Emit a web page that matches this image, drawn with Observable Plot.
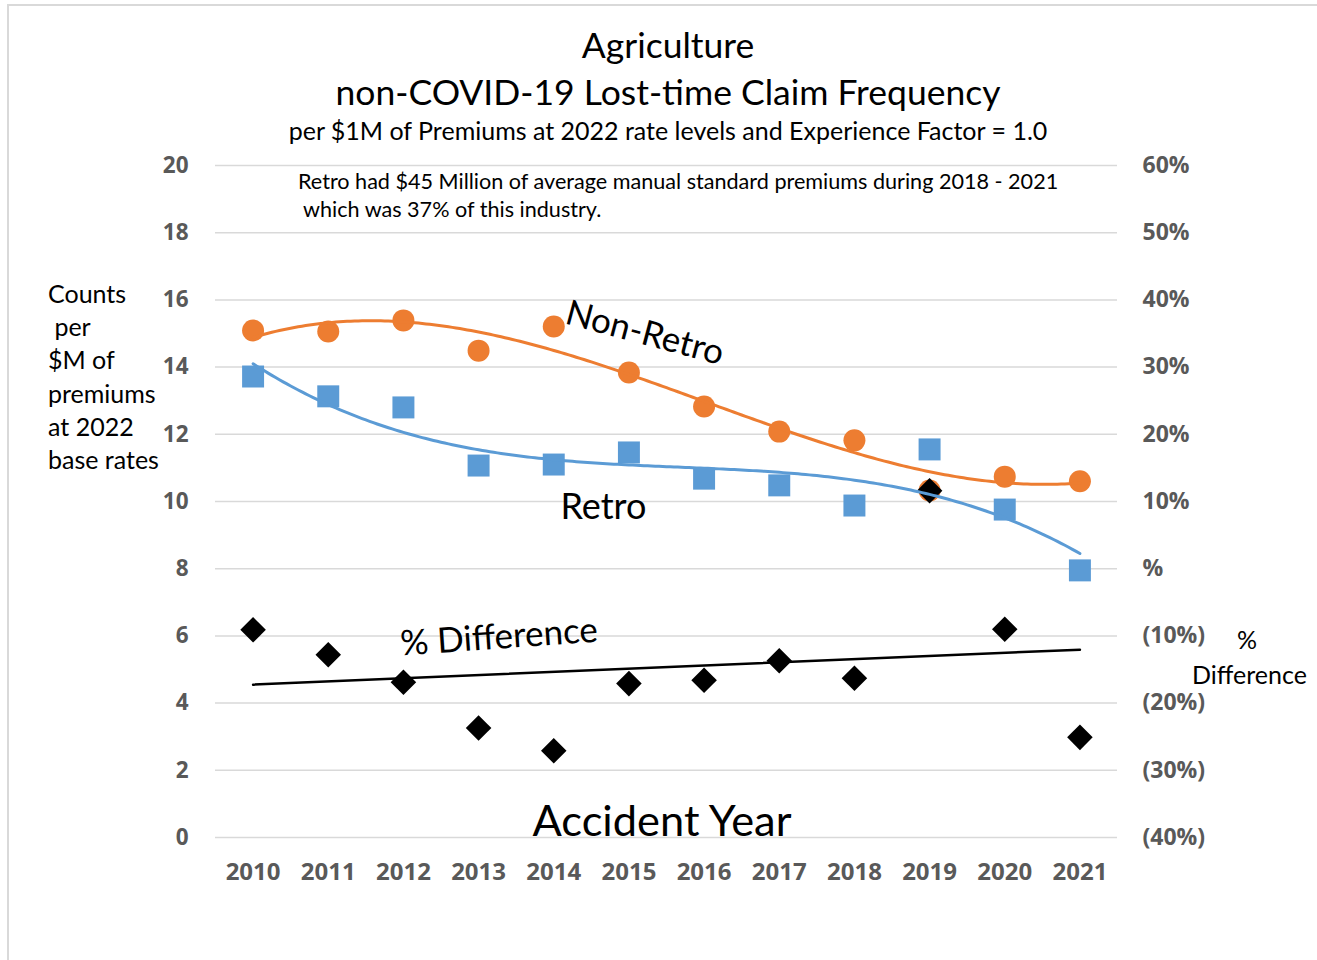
<!DOCTYPE html>
<html><head><meta charset="utf-8">
<script src="https://cdn.jsdelivr.net/npm/d3@7"></script>
<script src="https://cdn.jsdelivr.net/npm/@observablehq/plot@0.6"></script>
<style>
html,body{margin:0;padding:0;background:#fff;overflow:hidden;}
#wrap{position:relative;width:1317px;height:960px;font-family:Lato,"Open Sans",sans-serif;color:#000;overflow:hidden;}
.frame{position:absolute;left:7px;top:4px;width:1400px;height:1000px;border:2px solid #d9d9d9;box-sizing:border-box;}
#chart{position:absolute;left:0;top:0;}
#chart g[aria-label*="tick label"], #chart g[aria-label*="tick label"] text{font-weight:700;font-family:"Open Sans",sans-serif;}
.t{position:absolute;white-space:nowrap;line-height:1;}
.c{transform:translateX(-50%);}
</style></head><body>
<div id="wrap">
<div class="frame"></div>
<div id="chart"></div>
<div class="t c" style="left:668px;top:26.5px;font-size:35.5px;">Agriculture</div>
<div class="t c" style="left:668px;top:73.5px;font-size:35.5px;">non-COVID-19 Lost-time Claim Frequency</div>
<div class="t c" style="left:668px;top:118px;font-size:25px;">per $1M of Premiums at 2022 rate levels and Experience Factor = 1.0</div>
<div class="t" style="left:298px;top:171px;font-size:21.6px;">Retro had $45 Million of average manual standard premiums during 2018 - 2021</div>
<div class="t" style="left:303px;top:199px;font-size:21.6px;">which was 37% of this industry.</div>
<div class="t" style="left:48px;top:277px;font-size:25px;line-height:33.2px;white-space:pre;">Counts
 per
$M of
premiums
at 2022
base rates</div>
<div class="t" style="left:1237px;top:627px;font-size:25px;">%</div>
<div class="t" style="left:1192px;top:662px;font-size:25px;">Difference</div>
<div class="t c" style="left:662px;top:798px;font-size:43.4px;">Accident Year</div>
</div>
<script>
// ---- data ----
const years = [2010, 2011, 2012, 2013, 2014, 2015, 2016, 2017, 2018, 2019, 2020, 2021];
const nonRetro = [15.09, 15.06, 15.39, 14.49, 15.21, 13.84, 12.83, 12.08, 11.82, 10.33, 10.74, 10.60];
const retro = [13.72, 13.13, 12.80, 11.07, 11.10, 11.46, 10.68, 10.48, 9.88, 11.55, 9.76, 7.95];
const pctDiff = [-9.1, -12.8, -16.9, -23.7, -27.1, -17.1, -16.6, -13.7, -16.3, 11.6, -9.0, -25.1];
const leftTicks = [0, 2, 4, 6, 8, 10, 12, 14, 16, 18, 20];
const rightTickLabels = ["(40%)", "(30%)", "(20%)", "(10%)", "%", "10%", "20%", "30%", "40%", "50%", "60%"];

// secondary axis: 0..20 on the left corresponds to -40%..60% on the right
const toLeft = p => 8 + p / 5;

function polyfit(xs, ys, deg) {
  const n = deg + 1;
  const A = Array.from({length: n}, () => new Array(n + 1).fill(0));
  for (let i = 0; i < xs.length; i++) {
    for (let r = 0; r < n; r++) {
      for (let c = 0; c < n; c++) A[r][c] += Math.pow(xs[i], r + c);
      A[r][n] += ys[i] * Math.pow(xs[i], r);
    }
  }
  for (let k = 0; k < n; k++) {
    let p = k;
    for (let i = k + 1; i < n; i++) if (Math.abs(A[i][k]) > Math.abs(A[p][k])) p = i;
    [A[k], A[p]] = [A[p], A[k]];
    for (let i = k + 1; i < n; i++) {
      const f = A[i][k] / A[k][k];
      for (let j = k; j <= n; j++) A[i][j] -= f * A[k][j];
    }
  }
  const coef = new Array(n).fill(0);
  for (let i = n - 1; i >= 0; i--) {
    let s = A[i][n];
    for (let j = i + 1; j < n; j++) s -= A[i][j] * coef[j];
    coef[i] = s / A[i][i];
  }
  return coef;
}
function trend(vals) {
  const xs = years.map(y => y - 2010);
  const c = polyfit(xs, vals, 3);
  return d3.range(0, 11.0001, 0.05).map(t => ({year: 2010 + t, v: c.reduce((s, ci, k) => s + ci * Math.pow(t, k), 0)}));
}

const nrData = years.map((year, i) => ({year, v: nonRetro[i]}));
const rData = years.map((year, i) => ({year, v: retro[i]}));
const dData = years.map((year, i) => ({year, v: toLeft(pctDiff[i])}));

const axisText = {fontSize: 24, fontWeight: "bold", color: "#595959"};

const chart = Plot.plot({
  width: 1317, height: 960,
  marginLeft: 215, marginRight: 200, marginTop: 165, marginBottom: 123,
  x: {type: "linear", domain: [2009.5, 2021.5]},
  y: {domain: [0, 20]},
  style: {fontFamily: "Lato, 'Open Sans', sans-serif", background: "transparent"},
  marks: [
    Plot.gridY(leftTicks, {stroke: "#d9d9d9", strokeOpacity: 1, strokeWidth: 1.5}),
    Plot.axisY({anchor: "left", ticks: leftTicks, tickSize: 0, tickPadding: 27, label: null, ...axisText, fontSize: 22.5}),
    Plot.axisY({anchor: "right", ticks: leftTicks, tickFormat: (d) => rightTickLabels[leftTicks.indexOf(d)], tickSize: 0, tickPadding: 25, label: null, ...axisText, fontSize: 23}),
    Plot.axisX({ticks: years, tickFormat: d => String(d), tickSize: 0, tickPadding: 25, label: null, ...axisText}),
    Plot.dot(nrData, {x: "year", y: "v", r: 11, fill: "#ED7D31", stroke: "none"}),
    Plot.dot(rData, {x: "year", y: "v", symbol: "square", r: 12.4, fill: "#5B9BD5", stroke: "none"}),
    Plot.dot(dData, {x: "year", y: "v", symbol: "diamond2", r: 11.5, fill: "black", stroke: "none"}),
    Plot.line(trend(nonRetro), {x: "year", y: "v", stroke: "#ED7D31", strokeWidth: 3}),
    Plot.line(trend(retro), {x: "year", y: "v", stroke: "#5B9BD5", strokeWidth: 3}),
    Plot.linearRegressionY(dData, {x: "year", y: "v", stroke: "black", strokeWidth: 2.5, ci: 0}),
    Plot.text(["Non-Retro"], {x: 2014.17, y: 15.63, rotate: 15, textAnchor: "start", fontSize: 35, fill: "black"}),
    Plot.text(["Retro"], {x: 2014.66, y: 9.82, textAnchor: "middle", fontSize: 36, fill: "black"}),
    Plot.text(["% Difference"], {x: 2011.96, y: 5.75, rotate: -4, textAnchor: "start", fontSize: 35, fill: "black"})
  ]
});
document.getElementById("chart").appendChild(chart);
</script>
</body></html>
